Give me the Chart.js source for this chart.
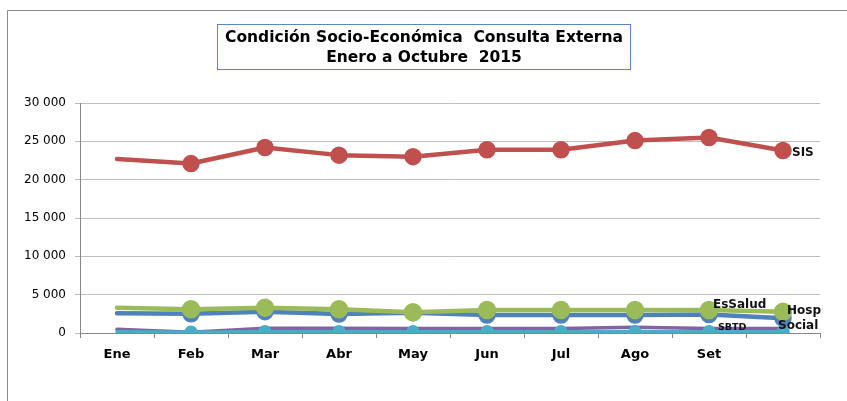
<!DOCTYPE html>
<html>
<head>
<meta charset="utf-8">
<script src="https://cdn.jsdelivr.net/npm/chart.js@4.4.1/dist/chart.umd.min.js"></script>
<style>
  html, body { margin: 0; padding: 0; background: #fff; overflow: hidden; }
  canvas { display: block; }
</style>
</head>
<body>
<canvas id="chart" width="847" height="401"></canvas>
<script>
const months = ["Ene", "Feb", "Mar", "Abr", "May", "Jun", "Jul", "Ago", "Set", ""];
const sis = [22700, 22100, 24200, 23200, 23000, 23900, 23900, 25100, 25500, 23800];
const esSalud = [3300, 3090, 3300, 3090, 2700, 3000, 3000, 3000, 3000, 2780];
const hosp = [2570, 2500, 2780, 2480, 2650, 2350, 2350, 2350, 2400, 1920];
const sbtd = [480, 100, 610, 610, 600, 580, 600, 740, 600, 600];
const social = [170, 100, 170, 170, 170, 170, 170, 170, 170, 170];
const titleLines = ["Condición Socio-Económica  Consulta Externa", "Enero a Octubre  2015"];

const FONT = "'DejaVu Sans', 'Liberation Sans', Arial, sans-serif";

function fmt(v) {
  return String(v).replace(/\B(?=(\d{3})+(?!\d))/g, " ");
}

// name labels placed next to the last point of each series
const seriesLabels = {
  id: "seriesLabels",
  afterDatasetsDraw(chart, args, opts) {
    const ctx = chart.ctx;
    ctx.save();
    ctx.fillStyle = "#111";
    ctx.textBaseline = "middle";
    opts.items.forEach((it) => {
      const meta = chart.getDatasetMeta(it.dataset);
      const pt = meta.data[meta.data.length - 1];
      ctx.font = "bold " + it.size + "px " + FONT;
      ctx.textAlign = "left";
      ctx.fillText(it.text, pt.x + it.dx, pt.y + it.dy);
    });
    ctx.restore();
  },
};

// frame and boxed title
const frame = {
  id: "frame",
  beforeDraw(chart) {
    const ctx = chart.ctx;
    ctx.save();
    ctx.fillStyle = "#fff";
    ctx.fillRect(0, 0, chart.width, chart.height);
    ctx.strokeStyle = "#8a8a8a";
    ctx.lineWidth = 1;
    ctx.beginPath();
    ctx.moveTo(7.5, chart.height);
    ctx.lineTo(7.5, 10.5);
    ctx.lineTo(chart.width, 10.5);
    ctx.stroke();
    ctx.restore();
  },
  afterDraw(chart) {
    const ctx = chart.ctx;
    ctx.save();
    ctx.strokeStyle = "#5b86c5";
    ctx.lineWidth = 1;
    ctx.strokeRect(217.5, 24.5, 413, 45);
    ctx.fillStyle = "#000";
    ctx.font = "bold 15.5px " + FONT;
    ctx.textAlign = "center";
    ctx.textBaseline = "middle";
    ctx.fillText(titleLines[0], 424, 38);
    ctx.fillText(titleLines[1], 424, 58);
    ctx.restore();
  },
};

new Chart(document.getElementById("chart"), {
  type: "line",
  data: {
    labels: months,
    datasets: [
      { label: "SIS", data: sis, borderColor: "#c0504d", backgroundColor: "#c0504d", pointRadius: (c) => (c.dataIndex === 0 ? 0 : 6.5), borderWidth: 4.5 },
      { label: "EsSalud", data: esSalud, borderColor: "#9bbb59", backgroundColor: "#9bbb59", pointRadius: (c) => (c.dataIndex === 0 ? 0 : 7), borderWidth: 4.5 },
      { label: "Hosp", data: hosp, borderColor: "#4f81bd", backgroundColor: "#4f81bd", pointRadius: (c) => (c.dataIndex === 0 ? 0 : 6.5), borderWidth: 4.5 },
      { label: "Social", data: social, borderColor: "#4bacc6", backgroundColor: "#4bacc6", pointRadius: (c) => (c.dataIndex === 0 ? 0 : 5), borderWidth: 3.5 },
      { label: "SBTD", data: sbtd, borderColor: "#8064a2", backgroundColor: "#8064a2", pointRadius: 0, borderWidth: 3.5 },
    ],
  },
  options: {
    responsive: false,
    animation: false,
    events: [],
    layout: { padding: { top: 103, right: 27, left: 0, bottom: 0 } },
    elements: {
      line: { tension: 0, borderCapStyle: "round", borderJoinStyle: "round" },
      point: { borderWidth: 0, hoverRadius: 0 },
    },
    datasets: { line: { clip: 0 } },
    plugins: {
      legend: { display: false },
      title: { display: false },
      tooltip: { enabled: false },
      seriesLabels: {
        items: [
          { dataset: 0, text: "SIS", dx: 9, dy: 2, size: 12 },
          { dataset: 1, text: "Hosp", dx: 4, dy: -1, size: 12 },
          { dataset: 1, text: "EsSalud", dx: -70, dy: -7, size: 12 },
          { dataset: 2, text: "Social", dx: -5, dy: 8, size: 12 },
          { dataset: 4, text: "SBTD", dx: -65, dy: -1, size: 9.5 },
        ],
      },
    },
    scales: {
      x: {
        offset: true,
        grid: { offset: true, drawOnChartArea: false, drawTicks: true, tickLength: 5, color: "#868686" },
        border: { color: "#868686", width: 1 },
        ticks: { color: "#000", padding: 9, maxRotation: 0, autoSkip: false, font: { family: FONT, size: 13, weight: "bold" } },
        afterFit: (s) => { s.height = 68; },
      },
      y: {
        min: 0,
        max: 30000,
        grid: { color: "#bdbdbd", tickLength: 5, drawTicks: true },
        border: { color: "#868686", width: 1 },
        ticks: { stepSize: 5000, color: "#000", padding: 9, callback: (v) => fmt(v), font: { family: FONT, size: 12 } },
        afterFit: (s) => { s.width = 80; },
      },
    },
  },
  plugins: [frame, seriesLabels],
});
</script>
</body>
</html>
